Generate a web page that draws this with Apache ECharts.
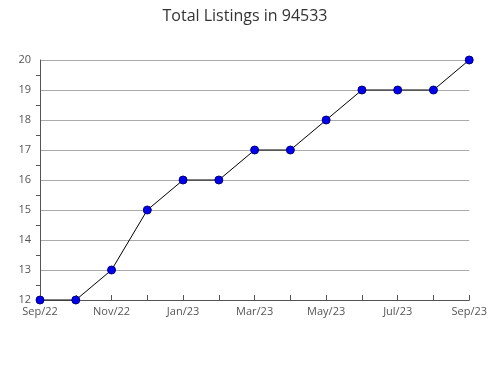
<!DOCTYPE html>
<html><head><meta charset="utf-8">
<script src="https://cdn.jsdelivr.net/npm/echarts@6/dist/echarts.min.js"></script>
<style>html,body{margin:0;padding:0;background:#fff}#c{width:490px;height:380px}</style>
</head><body><div id="c"></div>
<script>
var categories = ['Sep/22','Oct/22','Nov/22','Dec/22','Jan/23','Feb/23','Mar/23','Apr/23','May/23','Jun/23','Jul/23','Aug/23','Sep/23'];
var listings = [12,12,13,15,16,16,17,17,18,19,19,19,20];
var yMin = 12, yMax = 20;
var chart = echarts.init(document.getElementById('c'));
chart.setOption({
  animation: false,
  title: {text: 'Total Listings in 94533', left: 'center', top: 3,
    textStyle: {fontFamily: 'Open Sans', fontWeight: 'normal', fontSize: 16, color: '#333'}},
  grid: {left: 40, right: 20, top: 60, bottom: 80},
  xAxis: {type: 'category', data: categories, boundaryGap: false,
    axisLine: {lineStyle: {color: '#555'}},
    axisTick: {inside: true, length: 5, interval: 0, lineStyle: {color: '#555'}},
    axisLabel: {interval: 1, color: '#555', fontFamily: 'Open Sans', fontSize: 11, margin: 6}},
  yAxis: {type: 'value', min: yMin, max: yMax, interval: 1,
    axisLine: {show: true, lineStyle: {color: '#555'}},
    axisTick: {show: false},
    minorTick: {show: true, splitNumber: 2, length: 4, lineStyle: {color: '#555'}},
    splitLine: {lineStyle: {color: '#aaa'}},
    axisLabel: {color: '#555', fontFamily: 'Open Sans', fontSize: 11, margin: 9}},
  series: [{type: 'line', data: listings, symbol: 'circle', symbolSize: 8,
    lineStyle: {color: '#000', width: 1},
    itemStyle: {color: '#0000ee', borderColor: '#000080', borderWidth: 1}}]
});
</script></body></html>
